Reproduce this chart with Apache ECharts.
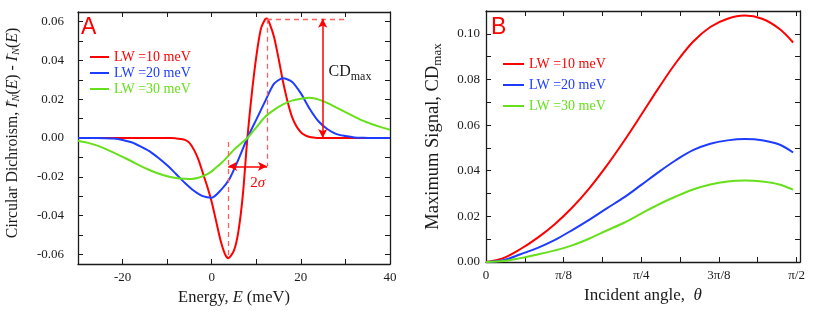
<!DOCTYPE html>
<html>
<head>
<meta charset="utf-8">
<script src="https://cdn.jsdelivr.net/npm/echarts@6/dist/echarts.min.js"></script>
<style>
  html, body { margin: 0; background: #fff; }
  #chart { width: 817px; height: 320px; }
</style>
</head>
<body>
<div id="chart"></div>
<script>
// ---- panel A: CD spectra vs energy (meV) ----
var lwNames = ["LW =10 meV", "LW =20 meV", "LW =30 meV"];
var lwColors = ["#ff0000", "#1e3cff", "#66e01a"];

var energy10 = [-30, -9, -8, -7, -6, -5, -4, -3, -2, -1, 0, 1, 2, 3, 3.7, 5, 6, 7, 8, 9,
  10, 11, 12, 12.4, 13, 14, 15, 16, 17, 18, 19, 20, 21, 22, 23, 24, 40];
var cd10 = [0, 0, -0.0002, -0.0005, -0.001, -0.0025, -0.006, -0.011, -0.018, -0.025,
  -0.033, -0.043, -0.053, -0.060, -0.062, -0.058, -0.048, -0.029, 0, 0.023,
  0.042, 0.056, 0.0612, 0.0617, 0.059, 0.052, 0.041, 0.029, 0.019, 0.011,
  0.006, 0.003, 0.0013, 0.0005, 0.0002, 0, 0];

var energy20 = [-30, -28, -26, -24, -22, -20, -18, -16, -14, -12, -10, -8, -6, -4, -2, 0, 2, 4,
  6, 8, 10, 12, 14, 16, 18, 20, 22, 24, 26, 28, 30, 32, 34, 36, 38, 40];
var cd20 = [0, 0, 0, -0.0001, -0.0003, -0.001, -0.0022, -0.0043, -0.0068, -0.0102,
  -0.0141, -0.0186, -0.0232, -0.0272, -0.030, -0.0308, -0.027, -0.021,
  -0.011, 0, 0.0095, 0.019, 0.028, 0.0308, 0.029, 0.023, 0.015, 0.0085,
  0.0045, 0.002, 0.001, 0.0003, 0.0001, 0, 0, 0];

var energy30 = [-30, -28, -26, -24, -22, -20, -18, -16, -14, -12, -10, -8, -6, -4.5, -3, -2, -1, 0, 1, 2,
  3, 4, 5, 6, 7, 8, 10, 12, 14, 16, 18, 20, 22, 24, 26, 28, 30, 32, 34, 36, 38, 40];
var cd30 = [-0.0014, -0.0024, -0.0037, -0.0055, -0.0075, -0.0097, -0.012, -0.0144, -0.0165, -0.0183,
  -0.0197, -0.0206, -0.021, -0.0211, -0.0205, -0.0197, -0.0186, -0.0172, -0.0152, -0.0133,
  -0.011, -0.0085, -0.006, -0.004, -0.002, 0, 0.0055, 0.011, 0.0145, 0.0173,
  0.0193, 0.0203, 0.0207, 0.0198, 0.018, 0.0157, 0.0133, 0.011, 0.0088, 0.0071,
  0.0056, 0.0043];

// annotation points of panel A (data units)
var peakE = 12.4, peakCD = 0.0615;
var dipE = 3.7, dipCD = -0.062;
var sigmaY = -0.0146;      // height of the 2σ arrow
var cdArrowE = 24.9;       // position of the CDmax arrow
var guideEndE = 30.6;      // end of the dashed line at the peak

// ---- panel B: max signal vs incident angle (degrees) ----
var angle = [0, 5, 10, 15, 20, 25, 30, 35, 40, 45, 50, 55, 60, 65, 70, 75, 80, 85, 89];
var cdMax10 = [0, 0.0017, 0.0057, 0.0107, 0.0167, 0.0239, 0.0324, 0.0422, 0.053,
  0.0645, 0.0762, 0.0872, 0.0965, 0.103, 0.1066, 0.108, 0.1066, 0.1022, 0.0962];
var cdMax20 = [0, 0.0008, 0.0034, 0.0062, 0.0097, 0.014, 0.0186, 0.0235, 0.0283,
  0.0338, 0.0394, 0.0446, 0.049, 0.0518, 0.0533, 0.0539, 0.0534, 0.0515, 0.048];
var cdMax30 = [0, 0.0004, 0.0017, 0.0033, 0.0051, 0.0073, 0.0103, 0.0138, 0.0172,
  0.0212, 0.0252, 0.0287, 0.0318, 0.034, 0.0353, 0.0357, 0.0353, 0.034, 0.0317];
var angleLabels = { 0: "0", 22.5: "\u03c0/8", 45: "\u03c0/4", 67.5: "3\u03c0/8", 90: "\u03c0/2" };

var serif = "Liberation Serif";
var ink = "#1a1a1a";

function pairs(xs, ys) {
  return xs.map(function (x, i) { return [x, ys[i]]; });
}
function everyOther(v) {
  // label only multiples of 0.02
  var k = v * 50;
  return Math.abs(k - Math.round(k)) < 1e-6 ? v.toFixed(2) : "";
}

var axisLineStyle = { show: true, onZero: false, lineStyle: { color: ink, width: 1.3 } };
var tickStyle = { show: true, inside: true, length: 5, lineStyle: { color: ink, width: 1 } };
var labelStyle = { fontFamily: serif, fontSize: 13, color: ink };

function xAx(grid, pos, extra) {
  return Object.assign({
    type: "value", gridIndex: grid, position: pos,
    axisLine: axisLineStyle, axisTick: tickStyle, splitLine: { show: false },
    axisLabel: { show: false }
  }, extra);
}

var chart = echarts.init(document.getElementById("chart"));

var lineA = lwNames.map(function (n, i) {
  var xs = [energy10, energy20, energy30][i];
  var ys = [cd10, cd20, cd30][i];
  return {
    name: n, type: "line", xAxisIndex: 0, yAxisIndex: 0,
    data: pairs(xs, ys), symbol: "none", smooth: 0.25,
    lineStyle: { color: lwColors[i], width: 2 }, itemStyle: { color: lwColors[i] }, z: 3
  };
});
var lineB = lwNames.map(function (n, i) {
  var ys = [cdMax10, cdMax20, cdMax30][i];
  return {
    name: n, type: "line", xAxisIndex: 2, yAxisIndex: 2,
    data: pairs(angle, ys), symbol: "none", smooth: 0.35,
    lineStyle: { color: lwColors[i], width: 2 }, itemStyle: { color: lwColors[i] }, z: 3
  };
});

var dashRed = { color: "#ff6060", type: [5, 4], width: 1.3 };
var arrowRed = { color: "#ff0000", type: "solid", width: 1.5 };
function seg(a, b, style, sym) {
  return [
    { coord: a, symbol: sym || "none", symbolSize: [7, 9], lineStyle: style },
    { coord: b, symbol: sym || "none", symbolSize: [7, 9], lineStyle: style }
  ];
}

var guides = {
  name: "guides", type: "line", xAxisIndex: 0, yAxisIndex: 0, data: [],
  silent: true, z: 2,
  markLine: {
    silent: true, animation: false, label: { show: false },
    data: [
      [{ xAxis: 0, symbol: "none", lineStyle: { color: ink, type: "solid", width: 1.3 } },
       { symbol: "none" }],
      [{ yAxis: 0, symbol: "none", lineStyle: { color: ink, type: "solid", width: 1.3 } },
       { symbol: "none" }],
      seg([peakE, peakCD], [guideEndE, peakCD], dashRed),
      seg([peakE, peakCD], [peakE, sigmaY], dashRed),
      seg([dipE, -0.002], [dipE, dipCD], dashRed),
      seg([dipE, sigmaY], [peakE, sigmaY], arrowRed, "arrow"),
      seg([cdArrowE, peakCD], [cdArrowE, 0], arrowRed, "arrow")
    ]
  },
  markPoint: {
    silent: true, animation: false, symbol: "circle", symbolSize: 0,
    data: [
      {
        coord: [10.3, -0.023],
        label: {
          show: true, position: "inside", formatter: "{a|2}{i|\u03c3}",
          rich: {
            a: { fontFamily: serif, fontSize: 15, color: "#ff0000" },
            i: { fontFamily: serif, fontSize: 15, fontStyle: "italic", color: "#ff0000" }
          }
        }
      },
      {
        coord: [26.2, 0.034],
        label: {
          show: true, position: "right", distance: 0, formatter: "{a|CD}{s|max}",
          rich: {
            a: { fontFamily: serif, fontSize: 16, color: ink },
            s: { fontFamily: serif, fontSize: 12, color: ink, padding: [9, 0, 0, 0] }
          }
        }
      }
    ]
  }
};

var option = {
  animation: false,
  backgroundColor: "#fff",
  title: [
    { text: "A", left: 81, top: 16, padding: 0,
      textStyle: { fontFamily: "Liberation Sans", fontSize: 23, fontWeight: "normal", color: "#ff0000" } },
    { text: "B", left: 491, top: 16, padding: 0,
      textStyle: { fontFamily: "Liberation Sans", fontSize: 23, fontWeight: "normal", color: "#ff0000" } }
  ],
  legend: [
    {
      left: 90, top: 50, orient: "vertical", itemGap: 2, itemWidth: 19, itemHeight: 2,
      icon: "rect", selectedMode: false, padding: 0,
      data: lwNames.map(function (n, i) {
        return { name: n, textStyle: { color: lwColors[i] } };
      }),
      textStyle: { fontFamily: serif, fontSize: 14 }
    },
    {
      left: 503, top: 57, orient: "vertical", itemGap: 7, itemWidth: 21, itemHeight: 2,
      icon: "rect", selectedMode: false, padding: 0,
      data: lwNames.map(function (n, i) {
        return { name: n, textStyle: { color: lwColors[i] } };
      }),
      textStyle: { fontFamily: serif, fontSize: 14 }
    }
  ],
  grid: [
    { left: 78, top: 12, width: 312, height: 252 },
    { left: 486, top: 11, width: 314, height: 251 }
  ],
  xAxis: [
    xAx(0, "bottom", {
      min: -30, max: 40, interval: 10,
      axisLabel: {
        show: true, margin: 7, fontFamily: serif, fontSize: 13, color: ink,
        formatter: function (v) { return v % 20 === 0 ? String(v) : ""; }
      },
      name: "Energy, {i|E} (meV)", nameLocation: "middle", nameGap: 24,
      nameTextStyle: {
        fontFamily: serif, fontSize: 16.5, color: ink,
        rich: { i: { fontFamily: serif, fontSize: 16.5, fontStyle: "italic", color: ink } }
      }
    }),
    xAx(0, "top", { min: -30, max: 40, interval: 10 }),
    xAx(1, "bottom", {
      min: 0, max: 91, interval: 11.25,
      axisLabel: {
        show: true, margin: 7, fontFamily: serif, fontSize: 13, color: ink,
        formatter: function (v) { return angleLabels[v] !== undefined ? angleLabels[v] : ""; }
      },
      name: "Incident angle,  {i|\u03b8}", nameLocation: "middle", nameGap: 24,
      nameTextStyle: {
        fontFamily: serif, fontSize: 17, color: ink,
        rich: { i: { fontFamily: serif, fontSize: 17, fontStyle: "italic", color: ink } }
      }
    }),
    xAx(1, "top", { min: 0, max: 91, interval: 11.25 })
  ],
  yAxis: [
    {
      type: "value", gridIndex: 0, position: "left", min: -0.065, max: 0.065, splitNumber: 13,
      axisLine: axisLineStyle, axisTick: tickStyle, splitLine: { show: false },
      axisLabel: Object.assign({ margin: 14, formatter: everyOther }, labelStyle),
      name: "Circular Dichroism, {i|I}{sup|+}{sub|N}({i|E}) - {i|I}{sup|\u2212}{sub|N}({i|E})",
      nameLocation: "middle", nameGap: 56,
      nameTextStyle: {
        fontFamily: serif, fontSize: 15.8, color: ink, padding: [0, 0, 0, 10],
        rich: {
          i: { fontFamily: serif, fontSize: 15.8, fontStyle: "italic", color: ink },
          sup: { fontFamily: serif, fontSize: 10.5, color: ink, padding: [0, 0, 8, 0], width: 1 },
          sub: { fontFamily: serif, fontSize: 10.5, fontStyle: "italic", color: ink, padding: [8, 0, 0, 0] }
        }
      }
    },
    {
      type: "value", gridIndex: 0, position: "right", min: -0.065, max: 0.065, splitNumber: 13,
      axisLine: axisLineStyle, axisTick: tickStyle, splitLine: { show: false },
      axisLabel: { show: false }
    },
    {
      type: "value", gridIndex: 1, position: "left", min: 0, max: 0.11, interval: 0.01,
      axisLine: axisLineStyle, axisTick: tickStyle, splitLine: { show: false },
      axisLabel: Object.assign({ margin: 6, formatter: everyOther }, labelStyle),
      name: "Maximum Signal, {a|CD}{sub|max}", nameLocation: "middle", nameGap: 42,
      nameTextStyle: {
        fontFamily: serif, fontSize: 18.5, color: ink,
        rich: {
          a: { fontFamily: serif, fontSize: 18.5, color: ink },
          sub: { fontFamily: serif, fontSize: 13, color: ink, padding: [9, 0, 0, 0] }
        }
      }
    },
    {
      type: "value", gridIndex: 1, position: "right", min: 0, max: 0.11, interval: 0.01,
      axisLine: axisLineStyle, axisTick: tickStyle, splitLine: { show: false },
      axisLabel: { show: false }
    }
  ],
  series: [guides].concat(lineA, lineB)
};

chart.setOption(option);
</script>
</body>
</html>
